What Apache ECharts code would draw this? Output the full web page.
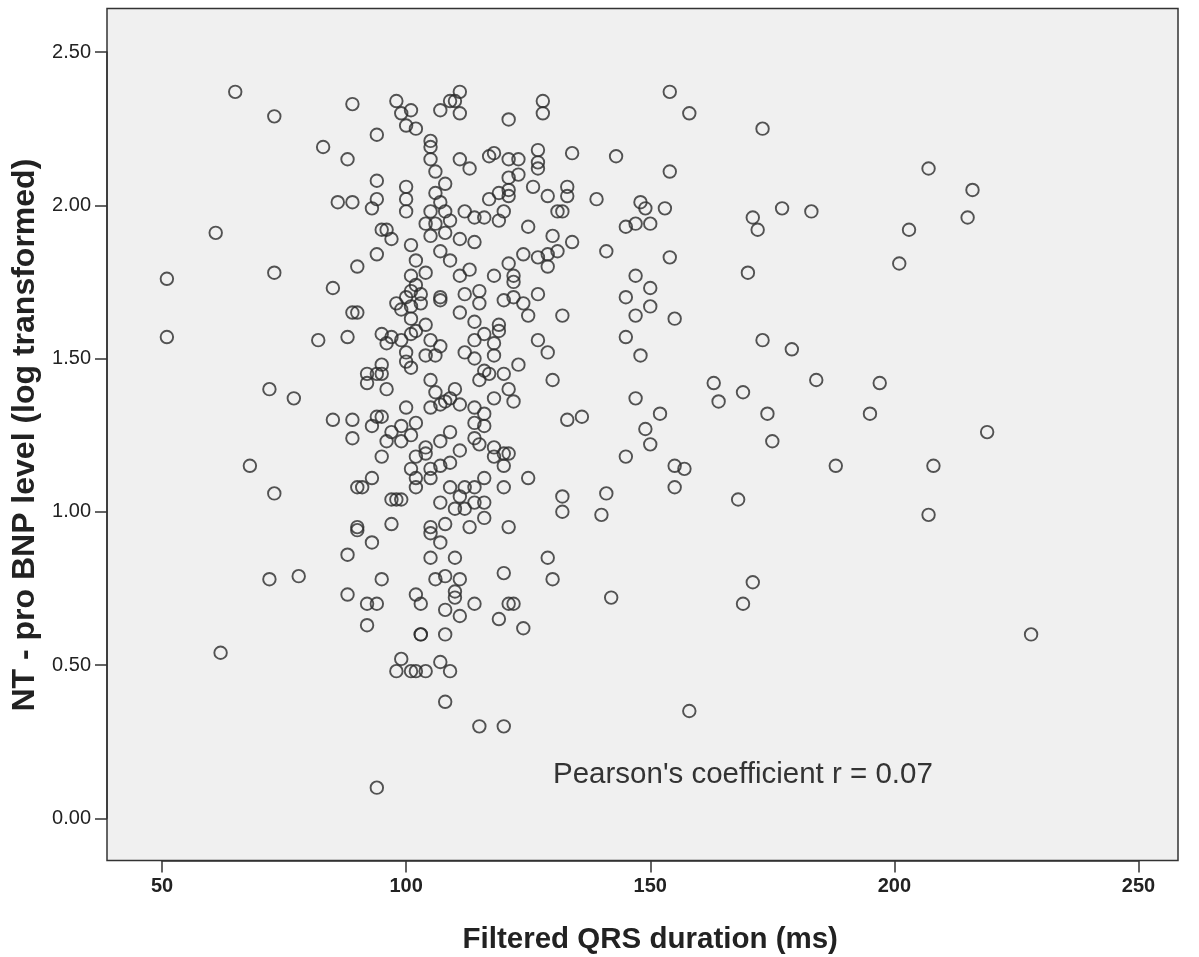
<!DOCTYPE html>
<html>
<head>
<meta charset="utf-8">
<script src="https://cdn.jsdelivr.net/npm/echarts@6/dist/echarts.min.js"></script>
<style>
html,body{margin:0;padding:0;background:#fff;}
#chart{width:1199px;height:957px;}
</style>
</head>
<body>
<div id="chart"></div>
<script>
// Filtered QRS duration (ms)
const qrs = [
65,73,83,88,86,89,61,51,73,85,90,89,90,51,82,88,72,77,85,89,89,89,68,73,90,90,90,88,72,78,88,62,
98,99,101,100,102,94,107,109,110,111,111,105,105,105,106,111,113,94,100,100,100,94,93,108,106,107,105,108,109,104,106,105,108,112,114,111,114,95,96,97,101,94,102,104,101,102,107,109,111,113,
98,100,101,103,99,101,103,107,107,112,111,101,104,95,97,96,99,101,102,105,107,104,106,100,100,101,112,92,92,94,95,95,96,105,106,108,110,109,111,100,105,107,94,93,95,97,99,99,101,102,96,95,104,107,109,111,102,104,101,105,107,109,102,105,102,93,91,97,98,99,107,109,112,111,110,112,97,93,105,105,108,107,105,110,
95,92,94,92,106,108,111,110,110,102,103,108,111,103,103,108,99,98,101,102,104,107,109,108,94,
128,128,121,127,127,127,134,117,118,121,123,121,123,126,119,121,121,117,129,133,133,131,132,120,119,116,125,130,134,124,127,129,131,129,121,118,122,122,115,
127,115,120,122,124,125,132,114,119,119,116,114,118,127,129,118,114,123,116,117,120,115,130,121,122,118,114,116,133,136,114,116,114,115,118,118,120,121,120,125,116,114,120,132,132,114,116,116,113,121,129,
120,130,114,121,122,119,124,115,120,
154,158,173,143,154,139,148,149,153,145,147,150,171,172,177,183,203,201,141,154,170,147,150,145,150,147,155,145,148,173,179,184,197,163,169,164,174,195,147,152,
149,150,145,155,157,155,175,188,141,140,168,171,169,142,158,
207,216,215,219,208,207,228
];
// NT - pro BNP level (log transformed)
const bnp = [
2.37,2.29,2.19,2.15,2.01,2.01,1.91,1.76,1.78,1.73,1.80,1.65,1.65,1.57,1.56,1.57,1.40,1.37,1.30,1.30,1.24,2.33,1.15,1.06,1.08,0.95,0.94,0.86,0.78,0.79,0.73,0.54,
2.34,2.30,2.31,2.26,2.25,2.23,2.31,2.34,2.34,2.37,2.30,2.21,2.19,2.15,2.11,2.15,2.12,2.08,2.06,2.02,1.98,2.02,1.99,2.07,2.04,2.01,1.98,1.98,1.95,1.94,1.94,1.90,1.91,1.98,1.96,1.89,1.88,1.92,1.92,1.89,1.87,1.84,1.82,1.78,1.77,1.74,1.85,1.82,1.77,1.79,
1.68,1.70,1.72,1.71,1.66,1.67,1.68,1.70,1.69,1.71,1.65,1.63,1.61,1.58,1.57,1.55,1.56,1.58,1.59,1.56,1.54,1.51,1.51,1.52,1.49,1.47,1.52,1.45,1.42,1.45,1.48,1.45,1.40,1.43,1.39,1.36,1.40,1.37,1.35,1.34,1.34,1.35,1.31,1.28,1.31,1.26,1.28,1.23,1.25,1.29,1.23,1.18,1.21,1.23,1.26,1.20,1.18,1.19,1.14,1.14,1.15,1.16,1.11,1.11,1.08,1.11,1.08,1.04,1.04,1.04,1.03,1.08,1.08,1.05,1.01,1.01,0.96,0.90,0.95,0.93,0.96,0.90,0.85,0.85,
0.78,0.70,0.70,0.63,0.78,0.79,0.78,0.74,0.72,0.73,0.70,0.68,0.66,0.60,0.60,0.60,0.52,0.48,0.48,0.48,0.48,0.51,0.48,0.38,0.10,
2.34,2.30,2.28,2.18,2.14,2.12,2.17,2.16,2.17,2.15,2.15,2.09,2.10,2.06,2.04,2.05,2.03,2.02,2.03,2.06,2.03,1.98,1.98,1.98,1.95,1.96,1.93,1.90,1.88,1.84,1.83,1.84,1.85,1.80,1.81,1.77,1.77,1.75,1.72,
1.71,1.68,1.69,1.70,1.68,1.64,1.64,1.62,1.61,1.59,1.58,1.56,1.55,1.56,1.52,1.51,1.50,1.48,1.46,1.45,1.45,1.43,1.43,1.40,1.36,1.37,1.34,1.32,1.30,1.31,1.29,1.28,1.24,1.22,1.21,1.18,1.19,1.19,1.15,1.11,1.11,1.08,1.08,1.05,1.00,1.03,1.03,0.98,0.95,0.95,0.85,
0.80,0.78,0.70,0.70,0.70,0.65,0.62,0.30,0.30,
2.37,2.30,2.25,2.16,2.11,2.02,2.01,1.99,1.99,1.93,1.94,1.94,1.96,1.92,1.99,1.98,1.92,1.81,1.85,1.83,1.78,1.77,1.73,1.70,1.67,1.64,1.63,1.57,1.51,1.56,1.53,1.43,1.42,1.42,1.39,1.36,1.32,1.32,1.37,1.32,
1.27,1.22,1.18,1.15,1.14,1.08,1.23,1.15,1.06,0.99,1.04,0.77,0.70,0.72,0.35,
2.12,2.05,1.96,1.26,1.15,0.99,0.60
];
const xTicks = {min: 50, max: 250, step: 50};
const yTicks = {min: 0, max: 2.5, step: 0.5};
const annotation = "Pearson's coefficient r = 0.07";

const FONT = "'Liberation Sans', Arial, sans-serif";
const points = qrs.map((x, i) => [x, bnp[i]]);

const chart = echarts.init(document.getElementById('chart'), null, {renderer: 'canvas'});
chart.setOption({
  animation: false,
  backgroundColor: '#ffffff',
  grid: [
    {left: 107, top: 8.5, width: 1071, height: 852, show: true, outerBoundsMode: 'none', containLabel: false,
     backgroundColor: '#f0f0f0', borderColor: '#333333', borderWidth: 1.5},
    {left: 162, top: 52, right: 60.5, bottom: 138.7, outerBoundsMode: 'none', containLabel: false}
  ],
  xAxis: [
    {gridIndex: 0, type: 'value', show: false, min: 0, max: 1},
    {gridIndex: 1, type: 'value', min: xTicks.min, max: xTicks.max, interval: xTicks.step,
     position: 'bottom', offset: 42.2,
     axisLine: {show: true, onZero: false, lineStyle: {color: '#333', width: 1.5}},
     axisTick: {show: true, inside: false, length: 12, lineStyle: {color: '#333', width: 1.5}},
     splitLine: {show: false},
     axisLabel: {fontSize: 20, fontWeight: 'bold', color: '#222', margin: 16, fontFamily: FONT},
     name: 'Filtered QRS duration (ms)', nameLocation: 'middle', nameGap: 64,
     nameTextStyle: {fontSize: 29.5, fontWeight: 'bold', color: '#222', fontFamily: FONT}}
  ],
  yAxis: [
    {gridIndex: 0, type: 'value', show: false, min: 0, max: 1},
    {gridIndex: 1, type: 'value', min: yTicks.min, max: yTicks.max, interval: yTicks.step,
     position: 'left', offset: 55,
     axisLine: {show: true, onZero: false, lineStyle: {color: '#333', width: 1.5}},
     axisTick: {show: true, inside: false, length: 12, lineStyle: {color: '#333', width: 1.5}},
     splitLine: {show: false},
     axisLabel: {fontSize: 20, color: '#222', margin: 16, fontFamily: FONT,
                 formatter: v => v.toFixed(2)},
     name: 'NT - pro BNP level (log transformed)', nameLocation: 'middle', nameGap: 63,
     nameRotate: 90,
     nameTextStyle: {fontSize: 32, fontWeight: 'bold', color: '#222', fontFamily: FONT}}
  ],
  graphic: [
    {type: 'text', left: 553, top: 760, z: 10,
     style: {text: annotation, fontSize: 29.5, fill: '#333', fontFamily: FONT}}
  ],
  series: [{
    type: 'scatter', xAxisIndex: 1, yAxisIndex: 1,
    data: points, symbol: 'circle', symbolSize: 12.5,
    itemStyle: {color: 'rgba(0,0,0,0)', borderColor: '#2a2a2a', borderWidth: 1.9},
    emphasis: {disabled: true}, silent: true
  }]
});
</script>
</body>
</html>
